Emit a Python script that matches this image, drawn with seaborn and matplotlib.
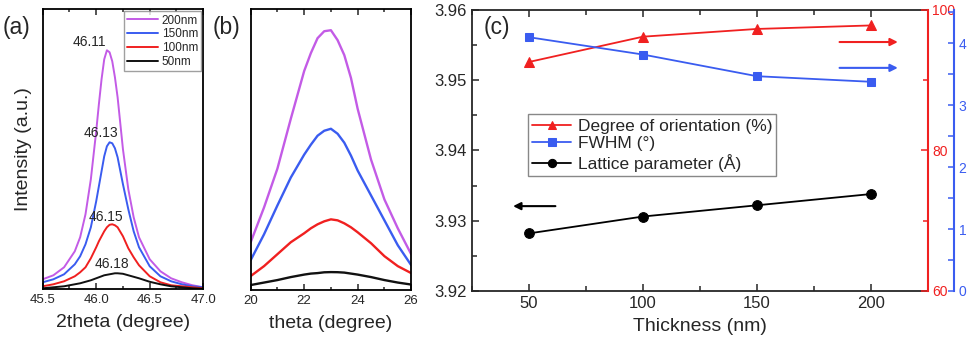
import matplotlib
matplotlib.use("Agg")
import matplotlib.pyplot as plt
import seaborn as sns
from matplotlib.ticker import MultipleLocator, FormatStrFormatter

# ---- (a) XRD (200) peak, intensity in arbitrary units
two_theta = [45.5, 45.6, 45.7, 45.8, 45.85, 45.9, 45.95, 46.0, 46.025, 46.05, 46.075, 46.1,
             46.125, 46.15, 46.175, 46.2, 46.25, 46.3, 46.35, 46.4, 46.5, 46.6, 46.7, 46.8,
             46.9, 47.0]
a_200nm = [10, 14, 22, 38, 52, 75, 110, 158, 185, 210, 230, 239,
           237, 228, 212, 192, 140, 100, 72, 52, 30, 18, 11, 7, 4, 2]
a_150nm = [7, 10, 15, 25, 33, 45, 62, 88, 103, 118, 133, 143,
           147, 146, 141, 132, 105, 80, 58, 42, 23, 13, 8, 5, 3, 2]
a_100nm = [3, 5, 8, 13, 17, 22, 31, 42, 48, 53, 58, 62,
           64.5, 65, 64, 62, 53, 41, 32, 24, 13, 7, 4, 3, 2, 1]
a_50nm = [1, 2, 3, 5, 6, 7.5, 9, 11, 12, 13, 14, 14.5,
          15, 15.5, 16, 16, 15.5, 14, 12.5, 11, 7.5, 5, 3, 2, 1, 0.5]
peak_pos = ["46.11", "46.13", "46.15", "46.18"]

# ---- (b) rocking curves
theta = [20, 20.5, 21, 21.5, 22, 22.25, 22.5, 22.75, 23, 23.25, 23.5, 23.75, 24, 24.5, 25, 25.5, 26]
b_200nm = [48, 83, 122, 172, 220, 238, 253, 260, 261, 251, 236, 213, 182, 131, 91, 62, 36]
b_150nm = [30, 56, 85, 113, 136, 146, 155, 160, 162, 157, 148, 135, 120, 95, 70, 45, 25]
b_100nm = [14, 24, 36, 48, 57, 62, 66, 69, 71, 70, 67, 63, 58, 47, 34, 24, 17]
b_50nm = [5, 7.5, 10, 13, 15.5, 16.5, 17, 17.8, 18, 17.9, 17.5, 16.5, 15.5, 13, 10, 7.5, 5.5]

# ---- (c) vs thickness
thickness = [50, 100, 150, 200]
lattice = [3.9282, 3.9306, 3.9322, 3.9338]
orientation = [92.6, 96.2, 97.3, 97.8]
fwhm = [4.10, 3.82, 3.47, 3.38]

labels = ["200nm", "150nm", "100nm", "50nm"]
colors = ["#c35be6", "#3a5cf0", "#f02020", "#111111"]
red, blue = "#f02020", "#3a5cf0"

sns.set_style("ticks")
plt.rcParams["font.family"] = ["Liberation Sans", "DejaVu Sans"]
plt.rcParams["axes.linewidth"] = 1.3

fig = plt.figure(figsize=(9.72, 3.49), dpi=100)
ax_a = fig.add_axes([0.0439, 0.1711, 0.1652, 0.8023])
ax_b = fig.add_axes([0.2579, 0.1690, 0.1651, 0.8043])
ax_c = fig.add_axes([0.4856, 0.1662, 0.4691, 0.8052])


def frame(ax, major, minor):
    ax.xaxis.set_major_locator(MultipleLocator(major))
    ax.xaxis.set_minor_locator(MultipleLocator(minor))
    ax.tick_params(which="both", direction="in", top=True, left=False, right=False,
                   labelleft=False, labelsize=9.5, width=1.1)
    ax.tick_params(which="major", length=4)
    ax.tick_params(which="minor", length=2.5)
    ax.set_yticks([])
    for s in ax.spines.values():
        s.set_visible(True)
        s.set_color("black")


# (a)
for ys, c in zip([a_200nm, a_150nm, a_100nm, a_50nm], colors):
    sns.lineplot(x=two_theta, y=ys, color=c, lw=1.4, estimator=None, ax=ax_a)
ax_a.set_xlim(45.5, 47.0)
ax_a.set_ylim(0, 280)
frame(ax_a, 0.5, 0.25)
ax_a.xaxis.set_major_formatter(FormatStrFormatter("%.1f"))
ax_a.set_xlabel("2theta (degree)", fontsize=14, labelpad=6)
ax_a.set_ylabel("Intensity (a.u.)", fontsize=14, labelpad=8)
ax_a.legend(ax_a.get_lines()[:4], labels, loc="upper right", fontsize=8.5,
            frameon=True, fancybox=False, edgecolor="#888888", borderaxespad=0.15,
            handlelength=2.6, labelspacing=0.15, borderpad=0.3, handletextpad=0.3)
label_x = [45.94, 46.04, 46.09, 46.15]
label_y = [247, 156, 72, 25]
for t, lx, ly in zip(peak_pos, label_x, label_y):
    ax_a.text(lx, ly, t, ha="center", va="center", fontsize=10)

# (b)
for ys, c in zip([b_200nm, b_150nm, b_100nm, b_50nm], colors):
    sns.lineplot(x=theta, y=ys, color=c, lw=1.7, estimator=None, ax=ax_b)
ax_b.set_xlim(20, 26)
ax_b.set_ylim(0, 282)
frame(ax_b, 2, 1)
ax_b.set_xlabel("theta (degree)", fontsize=14, labelpad=6)

fig.text(0.003, 0.92, "(a)", fontsize=16.5, va="center", ha="left")
fig.text(0.219, 0.92, "(b)", fontsize=16.5, va="center", ha="left")

# (c)
ax_r = ax_c.twinx()
ax_bl = ax_c.twinx()
sns.lineplot(x=thickness, y=lattice, color="black", marker="o", markersize=7,
             markeredgecolor="black", lw=1.3, ax=ax_c, label="Lattice parameter (Å)", legend=False)
sns.lineplot(x=thickness, y=orientation, color=red, marker="^", markersize=7,
             markeredgecolor=red, lw=1.3, ax=ax_r, label="Degree of orientation (%)", legend=False)
sns.lineplot(x=thickness, y=fwhm, color=blue, marker="s", markersize=6,
             markeredgecolor=blue, lw=1.3, ax=ax_bl, label="FWHM (°)", legend=False)

ax_c.set_xlim(25, 225)
ax_c.set_ylim(3.92, 3.96)
ax_c.xaxis.set_major_locator(MultipleLocator(50))
ax_c.xaxis.set_minor_locator(MultipleLocator(25))
ax_c.yaxis.set_major_locator(MultipleLocator(0.01))
ax_c.yaxis.set_minor_locator(MultipleLocator(0.005))
ax_c.yaxis.set_major_formatter(FormatStrFormatter("%.2f"))
ax_c.tick_params(which="both", direction="in", top=True, right=False, width=1.1, labelsize=12)
ax_c.tick_params(which="major", length=5)
ax_c.tick_params(which="minor", length=3.5)
ax_c.set_xlabel("Thickness (nm)", fontsize=14, labelpad=5)
ax_c.spines["right"].set_visible(False)

ax_r.set_ylim(60, 100)
ax_r.yaxis.set_major_locator(MultipleLocator(20))
ax_r.yaxis.set_minor_locator(MultipleLocator(10))
ax_r.tick_params(which="both", direction="in", colors=red, labelsize=10, width=1.1, pad=3)
ax_r.tick_params(which="major", length=5)
ax_r.tick_params(which="minor", length=3.5)
for k in ["left", "top", "bottom"]:
    ax_r.spines[k].set_visible(False)
ax_r.spines["right"].set_color(red)
ax_r.spines["right"].set_linewidth(1.5)

ax_bl.set_ylim(0, 4.54)
ax_bl.yaxis.set_major_locator(MultipleLocator(1))
ax_bl.yaxis.set_minor_locator(MultipleLocator(0.5))
ax_bl.tick_params(which="both", direction="in", colors=blue, labelsize=10, width=1.1, pad=3)
ax_bl.tick_params(which="major", length=4.5)
ax_bl.tick_params(which="minor", length=4.5)
for k in ["left", "top", "bottom"]:
    ax_bl.spines[k].set_visible(False)
ax_bl.spines["right"].set_position(("outward", 19))
ax_bl.spines["right"].set_color(blue)
ax_bl.spines["right"].set_linewidth(1.5)

handles = [ax_r.get_lines()[0], ax_bl.get_lines()[0], ax_c.get_lines()[0]]
ax_bl.legend(handles, [h.get_label() for h in handles], loc="upper left",
             bbox_to_anchor=(0.104, 0.66), fontsize=12.5, frameon=True, fancybox=False,
             edgecolor="#888888", framealpha=1, borderpad=0.25, labelspacing=0.15,
             handlelength=2.2, handletextpad=0.4, markerscale=0.85)

arrow = dict(arrowstyle="-|>", lw=1.5, mutation_scale=11)
ax_bl.annotate("", xy=(0.94, 0.886), xytext=(0.80, 0.886), xycoords="axes fraction",
               arrowprops=dict(arrow, color=red))
ax_bl.annotate("", xy=(0.94, 0.794), xytext=(0.80, 0.794), xycoords="axes fraction",
               arrowprops=dict(arrow, color=blue))
ax_bl.annotate("", xy=(0.084, 0.302), xytext=(0.189, 0.302), xycoords="axes fraction",
               arrowprops=dict(arrow, color="black"))
ax_bl.text(0.055, 0.936, "(c)", transform=ax_bl.transAxes, fontsize=16.5,
           ha="center", va="center")

fig.savefig("out.png", dpi=100)
